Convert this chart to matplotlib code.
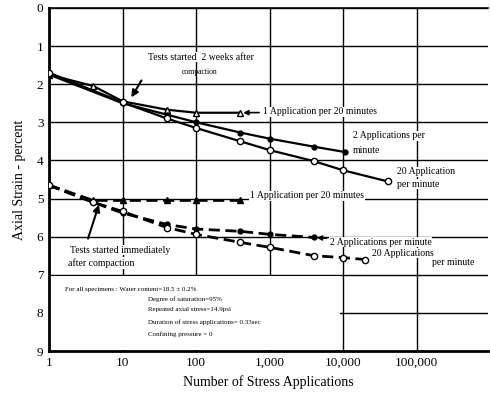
import numpy as np
import matplotlib
matplotlib.use("Agg")
import matplotlib.pyplot as plt
from matplotlib.patches import Rectangle

plt.rcParams['font.family'] = ['Liberation Serif', 'DejaVu Serif']

# upper group: tests started 2 weeks after compaction (solid)
n_slow_2w = [1, 4, 10, 40, 100, 400]
e_slow_2w = [1.75, 2.05, 2.45, 2.67, 2.75, 2.75]
n_mid_2w = [1, 10, 40, 100, 400, 1000, 4000, 10500]
e_mid_2w = [1.75, 2.5, 2.8, 3.0, 3.27, 3.43, 3.64, 3.78]
n_fast_2w = [1, 10, 40, 100, 400, 1000, 4000, 10000, 40000]
e_fast_2w = [1.7, 2.48, 2.9, 3.15, 3.5, 3.73, 4.02, 4.26, 4.55]

# lower group: tests started immediately after compaction (dashed)
n_slow_im = [1, 4, 10, 40, 100, 400]
e_slow_im = [4.65, 5.05, 5.05, 5.05, 5.05, 5.05]
n_mid_im = [1, 4, 10, 40, 100, 400, 1000, 4000]
e_mid_im = [4.65, 5.1, 5.38, 5.68, 5.8, 5.86, 5.94, 6.02]
n_fast_im = [1, 4, 10, 40, 100, 400, 1000, 4000, 10000, 20000]
e_fast_im = [4.65, 5.1, 5.34, 5.76, 5.94, 6.15, 6.28, 6.5, 6.55, 6.6]

x_ticks = [1, 10, 100, 1000, 10000, 100000]
x_labels = ['1', '10', '100', '1,000', '10,000', '100,000']
y_ticks = list(range(0, 10))

fig = plt.figure(figsize=(4.9, 3.94), dpi=100)
ax = fig.add_axes([0.1, 0.109, 0.896, 0.871])
ax.set_xscale('log')
ax.set_xlim(1, 9.3e5)
ax.set_ylim(9, 0)

ax.set_xticks(x_ticks)
ax.set_xticklabels(x_labels, fontsize=9.5)
ax.set_yticks(y_ticks)
ax.set_yticklabels([str(v) for v in y_ticks], fontsize=9.5)
ax.minorticks_off()
ax.tick_params(length=0, pad=4)
ax.grid(True, color='black', lw=1.0)
ax.set_axisbelow(True)
for s in ['left', 'bottom']:
    ax.spines[s].set_linewidth(2)
ax.spines['top'].set_linewidth(1.2)
ax.spines['right'].set_visible(False)

# blank panel behind the notes
ax.add_patch(Rectangle((1, 7.04), 9000, 1.92, facecolor='white', edgecolor='none', zorder=1.5))

kw = dict(color='black', lw=1.6, zorder=3)
ax.plot(n_slow_2w, e_slow_2w, '-', marker='^', mfc='white', ms=4.5, **kw)
ax.plot(n_mid_2w, e_mid_2w, '-', marker='o', mfc='black', ms=3.5, **kw)
ax.plot(n_fast_2w, e_fast_2w, '-', marker='o', mfc='white', ms=4.5, **kw)

kwd = dict(color='black', lw=2.0, zorder=3, dashes=(4, 2))
ax.plot(n_slow_im, e_slow_im, marker='^', mfc='black', ms=4.5, **kwd)
ax.plot(n_mid_im, e_mid_im, marker='o', mfc='black', ms=3.5, **kwd)
ax.plot(n_fast_im, e_fast_im, marker='o', mfc='white', ms=4.5, **kwd)

tb = dict(facecolor='white', edgecolor='none', pad=0.5)
fs = 7
ax.text(22, 1.29, 'Tests started  2 weeks after', fontsize=fs, va='center', bbox=tb, zorder=4)
ax.text(64, 1.68, 'compaction', fontsize=fs - 1.5, va='center', zorder=4)
ax.annotate('', xy=(12.6, 2.41), xytext=(18.9, 1.84),
            arrowprops=dict(arrowstyle='-|>', color='black', lw=1.5))

ax.annotate('1 Application per 20 minutes', xy=(400, 2.75), xytext=(800, 2.73),
            fontsize=fs, va='center', bbox=tb, zorder=4,
            arrowprops=dict(arrowstyle='-|>', color='black', lw=1.2))
ax.text(13500, 3.36, '2 Applications per', fontsize=fs, va='center', bbox=tb, zorder=4)
ax.text(13500, 3.75, 'minute', fontsize=fs, va='center', zorder=4)
ax.text(53000, 4.3, '20 Application', fontsize=fs, va='center', bbox=tb, zorder=4)
ax.text(53000, 4.62, 'per minute', fontsize=fs, va='center', bbox=tb, zorder=4)

ax.text(540, 4.93, '1 Application per 20 minutes', fontsize=fs, va='center', bbox=tb, zorder=4)
ax.annotate('2 Applications per minute', xy=(4000, 6.02), xytext=(6600, 6.14),
            fontsize=fs, va='center', bbox=tb, zorder=4,
            arrowprops=dict(arrowstyle='-|>', color='black', lw=1.2))
ax.text(24500, 6.43, '20 Applications', fontsize=fs, va='center', bbox=tb, zorder=4)
ax.text(160000, 6.69, 'per minute', fontsize=fs, va='center', bbox=tb, zorder=4)

ax.text(1.93, 6.35, 'Tests started immediately', fontsize=fs, va='center', bbox=tb, zorder=4)
ax.text(1.8, 6.69, 'after compaction', fontsize=fs, va='center', bbox=tb, zorder=4)
ax.annotate('', xy=(4.9, 5.09), xytext=(3.3, 6.12),
            arrowprops=dict(arrowstyle='-|>', color='black', lw=1.5), zorder=5)

nfs = 5
ax.text(1.65, 7.38, 'For all specimens : Water content=18.5 \u00b1 0.2%', fontsize=nfs, va='center', zorder=4)
notes = ['Degree of saturation=95%', 'Repeated axial stress=14.9psi',
         'Duration of stress applications= 0.33sec', 'Confining pressure = 0']
for yv, t in zip([7.64, 7.92, 8.24, 8.56], notes):
    ax.text(22, yv, t, fontsize=nfs, va='center', zorder=4)

ax.set_xlabel('Number of Stress Applications', fontsize=10, labelpad=5)
ax.set_ylabel('Axial Strain - percent', fontsize=10, labelpad=8)

fig.savefig('out.png', dpi=100)
